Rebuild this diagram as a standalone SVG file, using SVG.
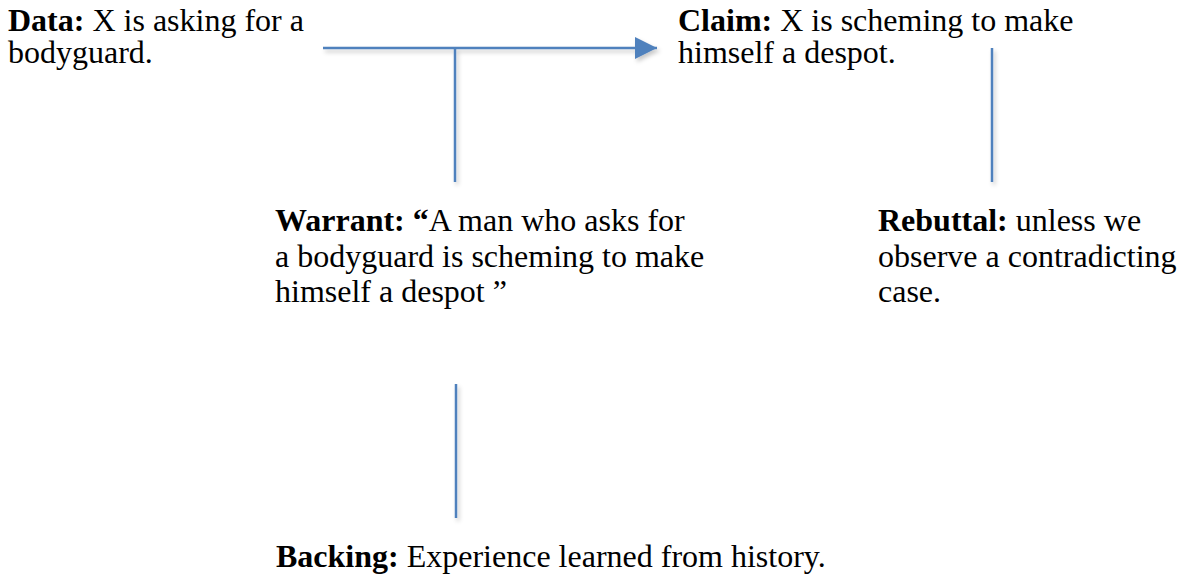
<svg xmlns="http://www.w3.org/2000/svg" width="1183" height="581" viewBox="0 0 1183 581">
<style>
.t { font-size: 32px; fill: #000; }
.b { font-weight: bold; }
.ln { stroke: #4F81BD; stroke-width: 2.5; fill: none; }
</style>
<defs>
<filter id="sh" x="-50%" y="-50%" width="200%" height="200%">
<feDropShadow dx="2" dy="3" stdDeviation="2" flood-color="#000" flood-opacity="0.22"/>
</filter>
<marker id="arr" markerUnits="userSpaceOnUse" markerWidth="24" markerHeight="24" refX="22" refY="11" orient="auto">
<path d="M0,0 L22,11 L0,22 Z" fill="#4F81BD"/>
</marker>
</defs>
<rect width="1183" height="581" fill="#fff"/>
<g id="connectors" filter="url(#sh)">
<line class="ln" x1="323" y1="48" x2="657" y2="48" marker-end="url(#arr)"/>
<line class="ln" x1="455" y1="48" x2="455" y2="182"/>
<line class="ln" x1="992" y1="48" x2="992" y2="182"/>
<line class="ln" x1="456" y1="384" x2="456" y2="518"/>
</g>
<g font-family="Liberation Serif, Tinos, Times New Roman, DejaVu Serif, serif">
<g id="data">
<text class="t" x="8" y="31"><tspan class="b">Data:</tspan> X is asking for a</text>
<text class="t" x="8" y="63">bodyguard.</text>
</g>
<g id="claim">
<text class="t" x="678" y="31"><tspan class="b">Claim:</tspan> X is scheming to make</text>
<text class="t" x="678" y="63">himself a despot.</text>
</g>
<g id="warrant">
<text class="t" x="275" y="231"><tspan class="b">Warrant: “</tspan>A man who asks for</text>
<text class="t" x="275" y="267">a bodyguard is scheming to make</text>
<text class="t" x="275" y="302">himself a despot ”</text>
</g>
<g id="rebuttal">
<text class="t" x="878" y="231"><tspan class="b">Rebuttal:</tspan> unless we</text>
<text class="t" x="878" y="267">observe a contradicting</text>
<text class="t" x="878" y="302">case.</text>
</g>
<g id="backing">
<text class="t" x="276" y="567"><tspan class="b">Backing:</tspan> Experience learned from history.</text>
</g>
</g>
</svg>
